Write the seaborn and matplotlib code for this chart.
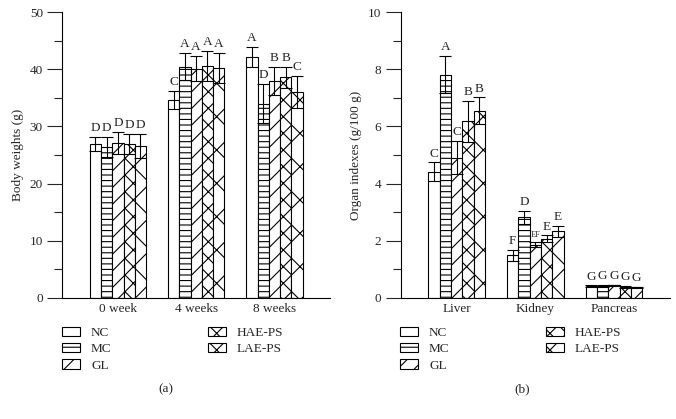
import numpy as np
import pandas as pd
import seaborn as sns
import matplotlib.pyplot as plt
from matplotlib.patches import Patch

# Data
groups = ["NC", "MC", "GL", "HAE-PS", "LAE-PS"]
hatches = ["", "---", "//", "xx", "x"]

weeks = ["0 week", "4 weeks", "8 weeks"]
bw_mean = {
    "NC": [26.9, 34.7, 42.2],
    "MC": [26.4, 40.5, 34.0],
    "GL": [27.1, 40.1, 38.0],
    "HAE-PS": [26.9, 40.6, 38.6],
    "LAE-PS": [26.6, 40.3, 36.0],
}
bw_err = {
    "NC": [1.2, 1.6, 1.7],
    "MC": [1.8, 2.4, 3.4],
    "GL": [1.9, 2.2, 2.5],
    "HAE-PS": [1.8, 2.7, 1.8],
    "LAE-PS": [2.1, 2.6, 2.8],
}
bw_letters = {
    "NC": ["D", "C", "A"],
    "MC": ["D", "A", "D"],
    "GL": ["D", "A", "B"],
    "HAE-PS": ["D", "A", "B"],
    "LAE-PS": ["D", "A", "C"],
}

organs = ["Liver", "Kidney", "Pancreas"]
oi_mean = {
    "NC": [4.42, 1.48, 0.40],
    "MC": [7.81, 2.82, 0.42],
    "GL": [4.91, 1.86, 0.43],
    "HAE-PS": [6.18, 2.06, 0.38],
    "LAE-PS": [6.55, 2.33, 0.37],
}
oi_err = {
    "NC": [0.32, 0.19, 0.03],
    "MC": [0.65, 0.23, 0.03],
    "GL": [0.59, 0.10, 0.02],
    "HAE-PS": [0.72, 0.12, 0.03],
    "LAE-PS": [0.47, 0.20, 0.02],
}
oi_letters = {
    "NC": ["C", "F", "G"],
    "MC": ["A", "D", "G"],
    "GL": ["C", "EF", "G"],
    "HAE-PS": ["B", "E", "G"],
    "LAE-PS": ["B", "E", "G"],
}

sns.set_theme(style="ticks")
plt.rcParams["font.family"] = ["Liberation Serif", "DejaVu Serif"]
plt.rcParams["hatch.linewidth"] = 0.8
plt.rcParams["hatch.color"] = "black"

fig = plt.figure(figsize=(6.76, 4.19), dpi=100)
ax1 = fig.add_axes([0.0922, 0.2895, 0.396, 0.681])
ax2 = fig.add_axes([0.5927, 0.2895, 0.398, 0.681])


def panel(ax, cats, means, errs, letters, ymax, ylabel, lpos, sub):
    rows = []
    for g in groups:
        for c, m in zip(cats, means[g]):
            rows.append({"cat": c, "group": g, "value": m})
    df = pd.DataFrame(rows)
    sns.barplot(data=df, x="cat", y="value", hue="group", order=cats,
                hue_order=groups, palette=["white"] * 5, edgecolor="black",
                linewidth=0.8, width=0.72, gap=0, errorbar=None,
                legend=False, ax=ax, saturation=1)
    for cont, g, h in zip(ax.containers, groups, hatches):
        xs = []
        for p in cont.patches:
            p.set_hatch(h)
            xs.append(p.get_x() + p.get_width() / 2)
        ax.errorbar(xs, means[g], yerr=errs[g], fmt="none", ecolor="black",
                    elinewidth=0.8, capsize=4.6, capthick=0.8, zorder=5)
        # significance letters above the caps
        for x, m, e, t in zip(xs, means[g], errs[g], letters[g]):
            fs = 6 if len(t) > 1 else 9.5
            ax.text(x, m + e + ymax * 0.01, t, ha="center", va="bottom",
                    fontsize=fs)
    ax.set_xlim(-0.71, 2.71)
    ax.set_ylim(0, ymax)
    ax.set_yticks(np.linspace(0, ymax, 6))
    ax.set_yticks(np.linspace(ymax / 10, ymax * 0.9, 5), minor=True)
    ax.set_yticklabels([f"{v:g}" for v in np.linspace(0, ymax, 6)])
    ax.tick_params(axis="y", which="major", length=11, width=0.8,
                   labelsize=9.5, pad=3)
    ax.tick_params(axis="y", which="minor", length=5.8, width=0.8)
    ax.tick_params(axis="x", length=0, labelsize=9.5, pad=4)
    ax.set_xlabel("")
    ax.set_ylabel(ylabel, fontsize=9.5, labelpad=4)
    for s in ["left", "bottom"]:
        ax.spines[s].set_linewidth(0.8)
        ax.spines[s].set_color("black")
    sns.despine(ax=ax)

    # legend below each panel
    handles = [Patch(facecolor="white", edgecolor="black", hatch=h,
                     linewidth=0.8) for h in hatches]
    fig.legend(handles, groups, loc="upper left", bbox_to_anchor=lpos,
               ncol=2, frameon=False, fontsize=9.5, handlelength=1.4,
               handleheight=0.7, labelspacing=0.3, columnspacing=7.3,
               handletextpad=0.8, borderpad=0, borderaxespad=0)
    fig.text(sub[0], sub[1], sub[2], ha="center", va="center", fontsize=9.5)


panel(ax1, weeks, bw_mean, bw_err, bw_letters, 50, "Body weights (g)",
      (62 / 676, 1 - 327 / 419), (166 / 676, 1 - 389 / 419, "(a)"))
panel(ax2, organs, oi_mean, oi_err, oi_letters, 10, "Organ indexes (g/100 g)",
      (400 / 676, 1 - 327 / 419), (522 / 676, 1 - 389 / 419, "(b)"))

fig.savefig("out.png", dpi=100)
